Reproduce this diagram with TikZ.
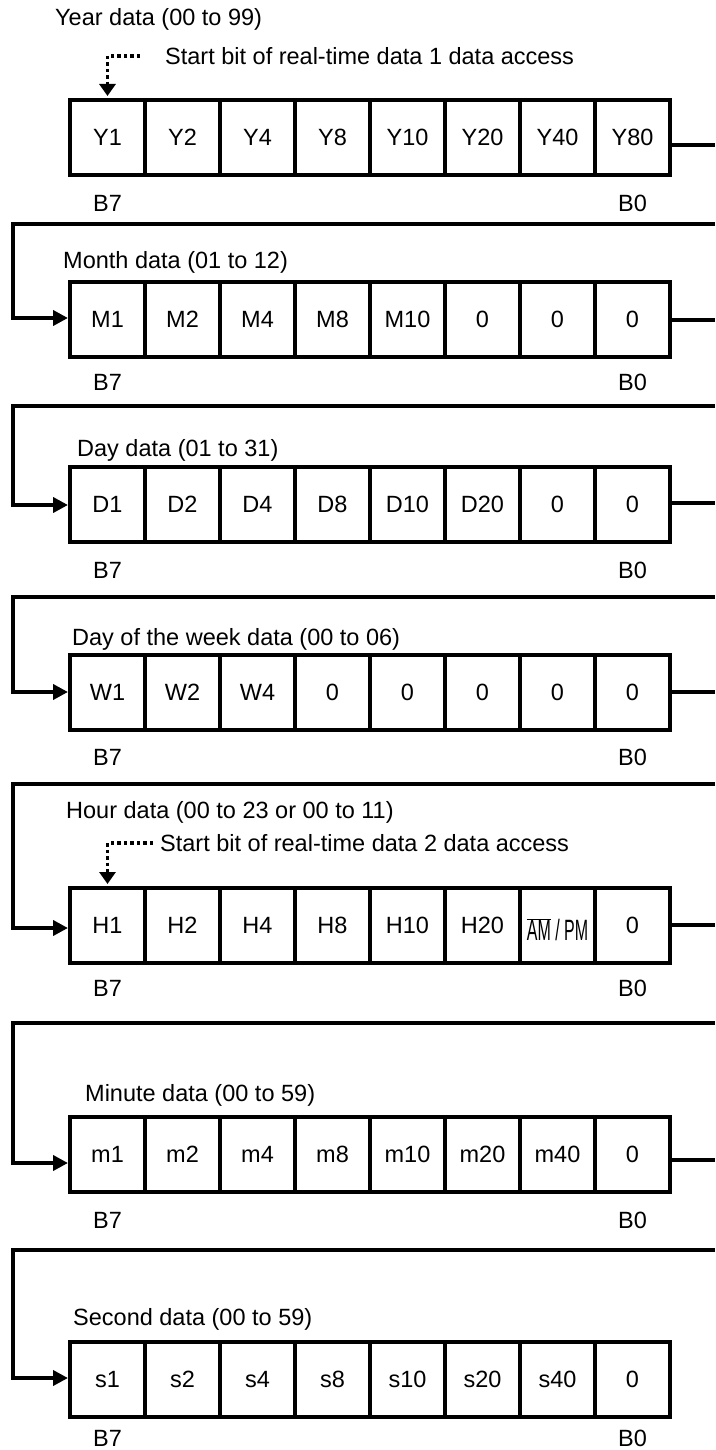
\documentclass[tikz,border=0pt]{standalone}
\usepackage{fontspec}
\setmainfont{Liberation Sans}
\usetikzlibrary{arrows.meta}
\newcommand{\myfont}{\fontsize{23.5}{28}\selectfont}
\begin{document}
\begin{tikzpicture}[x=1pt,y=-1pt,
  cell/.style={draw, line width=4pt, minimum width=75pt, minimum height=75pt, inner sep=0pt,
    text height=16.8pt, text depth=0pt, font=\myfont},
  lbl/.style={anchor=base west, inner sep=0pt, font=\myfont},
  bitlbl/.style={inner sep=0pt, text height=16.8pt, text depth=0pt, font=\myfont},
  ret/.style={line width=4.5pt, -{Triangle[length=15pt,width=15pt]}},
  exitln/.style={line width=4pt},
  dotarr/.style={line width=3.5pt, dash pattern=on 3.5pt off 3pt, -{Triangle[length=12pt,width=16pt]}}]
\useasboundingbox (0,0) rectangle (715,1450);
\fill[white] (0,0) rectangle (715,1450);

% rows of cells
\foreach \lab [count=\i] in {Y1,Y2,Y4,Y8,Y10,Y20,Y40,Y80}
  \node[cell] (r1c\i) at ({32.5+75*\i},137.5) {\lab};
\foreach \lab [count=\i] in {M1,M2,M4,M8,M10,0,0,0}
  \node[cell] (r2c\i) at ({32.5+75*\i},319) {\lab};
\foreach \lab [count=\i] in {D1,D2,D4,D8,D10,D20,0,0}
  \node[cell] (r3c\i) at ({32.5+75*\i},504.5) {\lab};
\foreach \lab [count=\i] in {W1,W2,W4,0,0,0,0,0}
  \node[cell] (r4c\i) at ({32.5+75*\i},692.5) {\lab};
\foreach \lab [count=\i] in {H1,H2,H4,H8,H10,H20,{\raisebox{-7pt}{\scalebox{0.68}[1.25]{$\overline{\hbox{AM}}$ / PM}}},0}
  \node[cell] (r5c\i) at ({32.5+75*\i},925.5) {\lab};
\foreach \lab [count=\i] in {m1,m2,m4,m8,m10,m20,m40,0}
  \node[cell] (r6c\i) at ({32.5+75*\i},1154.5) {\lab};
\foreach \lab [count=\i] in {s1,s2,s4,s8,s10,s20,s40,0}
  \node[cell] (r7c\i) at ({32.5+75*\i},1379.5) {\lab};

% B7 / B0 labels
\foreach \y [count=\k] in {203,382,570,757,988,1220,1438} {
  \node[bitlbl] (hi\k) at (107.5,\y) {B7};
  \node[bitlbl] (lo\k) at (632.5,\y) {B0};
}

% titles
\node[lbl] (t1) at (55,26) {Year data (00 to 99)};
\node[lbl] (sb1) at (165,65) {Start bit of real-time data 1 data access};
\node[lbl] (t2) at (63,268) {Month data (01 to 12)};
\node[lbl] (t3) at (77,456) {Day data (01 to 31)};
\node[lbl] (t4) at (72,645) {Day of the week data (00 to 06)};
\node[lbl] (t5) at (66,818) {Hour data (00 to 23 or 00 to 11)};
\node[lbl] (sb2) at (160,851) {Start bit of real-time data 2 data access};
\node[lbl] (t6) at (85,1101) {Minute data (00 to 59)};
\node[lbl] (t7) at (73,1325) {Second data (00 to 59)};

% dotted start-bit arrows
\coordinate (d1) at (140,56);
\draw[dotarr] (d1) -| ([yshift=2pt]r1c1.north);
\coordinate (d2) at (153,843);
\draw[dotarr] (d2) -| ([yshift=2pt]r5c1.north);

% exit lines
\coordinate (e1) at (715,145);
\coordinate (e2) at (715,320);
\coordinate (e3) at (715,503);
\coordinate (e4) at (715,692);
\coordinate (e5) at (715,925);
\coordinate (e6) at (715,1160);
\draw[exitln] (r1c8.east |- e1) -- (e1);
\draw[exitln] (r2c8.east |- e2) -- (e2);
\draw[exitln] (r3c8.east |- e3) -- (e3);
\draw[exitln] (r4c8.east |- e4) -- (e4);
\draw[exitln] (r5c8.east |- e5) -- (e5);
\draw[exitln] (r6c8.east |- e6) -- (e6);

% return lines
\coordinate (b1) at (715,224);  \coordinate (k2) at (13,318);
\coordinate (b2) at (715,406);  \coordinate (k3) at (13,505);
\coordinate (b3) at (715,597);  \coordinate (k4) at (13,692);
\coordinate (b4) at (715,784);  \coordinate (k5) at (13,928);
\coordinate (b5) at (715,1023); \coordinate (k6) at (13,1163);
\coordinate (b6) at (715,1250); \coordinate (k7) at (13,1378);
\draw[ret] (b1) -| (k2) -- (r2c1.west |- k2);
\draw[ret] (b2) -| (k3) -- (r3c1.west |- k3);
\draw[ret] (b3) -| (k4) -- (r4c1.west |- k4);
\draw[ret] (b4) -| (k5) -- (r5c1.west |- k5);
\draw[ret] (b5) -| (k6) -- (r6c1.west |- k6);
\draw[ret] (b6) -| (k7) -- (r7c1.west |- k7);
\end{tikzpicture}
\end{document}
